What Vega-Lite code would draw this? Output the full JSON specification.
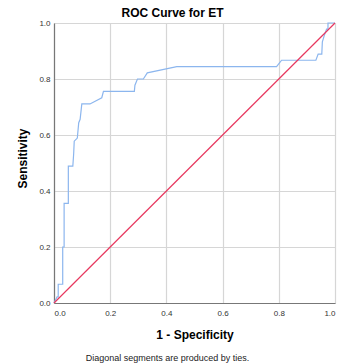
{
  "$schema": "https://vega.github.io/schema/vega-lite/v6.json",
  "autosize": {"type": "none"},
  "padding": {"left": 54, "top": 23, "right": 5, "bottom": 61},
  "width": 281,
  "height": 280,
  "background": "white",
  "config": {
    "view": {"stroke": null},
    "font": "Liberation Sans",
    "axis": {"labelFont": "Liberation Sans", "titleFont": "Liberation Sans"}
  },
  "title": {
    "text": "Diagonal segments are produced by ties.",
    "orient": "bottom",
    "anchor": "middle",
    "fontSize": 9,
    "fontWeight": "normal",
    "color": "#222222",
    "offset": 14,
    "dx": -27
  },
  "datasets": {
    "roc": [
      {"fpr": 0.0, "tpr": 0.0},
      {"fpr": 0.011, "tpr": 0.022},
      {"fpr": 0.015, "tpr": 0.022},
      {"fpr": 0.015, "tpr": 0.067},
      {"fpr": 0.031, "tpr": 0.067},
      {"fpr": 0.031, "tpr": 0.2},
      {"fpr": 0.036, "tpr": 0.2},
      {"fpr": 0.036, "tpr": 0.356},
      {"fpr": 0.051, "tpr": 0.356},
      {"fpr": 0.051, "tpr": 0.489},
      {"fpr": 0.067, "tpr": 0.489},
      {"fpr": 0.07, "tpr": 0.533},
      {"fpr": 0.072, "tpr": 0.578},
      {"fpr": 0.083, "tpr": 0.589},
      {"fpr": 0.088, "tpr": 0.644},
      {"fpr": 0.093, "tpr": 0.656},
      {"fpr": 0.099, "tpr": 0.711},
      {"fpr": 0.128, "tpr": 0.711},
      {"fpr": 0.17, "tpr": 0.733},
      {"fpr": 0.176, "tpr": 0.756},
      {"fpr": 0.286, "tpr": 0.756},
      {"fpr": 0.288, "tpr": 0.778},
      {"fpr": 0.297, "tpr": 0.8},
      {"fpr": 0.318, "tpr": 0.8},
      {"fpr": 0.332, "tpr": 0.822},
      {"fpr": 0.437, "tpr": 0.844},
      {"fpr": 0.792, "tpr": 0.844},
      {"fpr": 0.81, "tpr": 0.867},
      {"fpr": 0.932, "tpr": 0.867},
      {"fpr": 0.94, "tpr": 0.889},
      {"fpr": 0.953, "tpr": 0.889},
      {"fpr": 0.955, "tpr": 0.933},
      {"fpr": 0.962, "tpr": 0.956},
      {"fpr": 0.97, "tpr": 0.978},
      {"fpr": 0.975, "tpr": 0.978},
      {"fpr": 0.975, "tpr": 1.0},
      {"fpr": 1.0, "tpr": 1.0}
    ],
    "diag": [
      {"fpr": 0.0, "tpr": 0.0},
      {"fpr": 1.0, "tpr": 1.0}
    ]
  },
  "resolve": {"axis": {"x": "independent"}},
  "layer": [
    {
      "data": {"name": "roc"},
      "mark": {"type": "line", "color": "#8cb6ee", "strokeWidth": 1.2, "interpolate": "linear"},
      "encoding": {
        "x": {
          "field": "fpr", "type": "quantitative",
          "scale": {"domain": [0, 1], "nice": false},
          "axis": {
            "title": "1 - Specificity",
            "titleFontSize": 12, "titleFontWeight": "bold", "titleColor": "#000000",
            "titlePadding": 12,
            "values": [0, 0.2, 0.4, 0.6, 0.8, 1.0], "format": ".1f",
            "labelFontSize": 8, "labelColor": "#333333", "labelPadding": 6,
            "ticks": false,
            "domainColor": "#777777", "domainWidth": 1.2,
            "grid": true, "gridColor": "#d6d6d6", "gridWidth": 1.2
          }
        },
        "y": {
          "field": "tpr", "type": "quantitative",
          "scale": {"domain": [0, 1], "nice": false},
          "axis": {
            "title": "Sensitivity",
            "titleFontSize": 12, "titleFontWeight": "bold", "titleColor": "#000000",
            "titlePadding": 9,
            "titleY": 135,
            "values": [0, 0.2, 0.4, 0.6, 0.8, 1.0], "format": ".1f",
            "labelFontSize": 8, "labelColor": "#333333", "labelPadding": 4,
            "ticks": false,
            "domainColor": "#777777", "domainWidth": 1.2,
            "grid": true, "gridColor": "#d6d6d6", "gridWidth": 1.2
          }
        },
        "order": {"field": "fpr"}
      }
    },
    {
      "data": {"name": "diag"},
      "mark": {"type": "line", "color": "#e8385f", "strokeWidth": 1.2},
      "encoding": {
        "x": {
          "field": "fpr", "type": "quantitative",
          "scale": {"domain": [0, 1], "nice": false},
          "axis": {
            "orient": "top",
            "title": "ROC Curve for ET",
            "titleFontSize": 12, "titleFontWeight": "bold", "titleColor": "#000000",
            "titlePadding": 4,
            "titleX": 118,
            "labels": false, "ticks": false, "domain": false, "grid": false
          }
        },
        "y": {"field": "tpr", "type": "quantitative"}
      }
    }
  ]
}
